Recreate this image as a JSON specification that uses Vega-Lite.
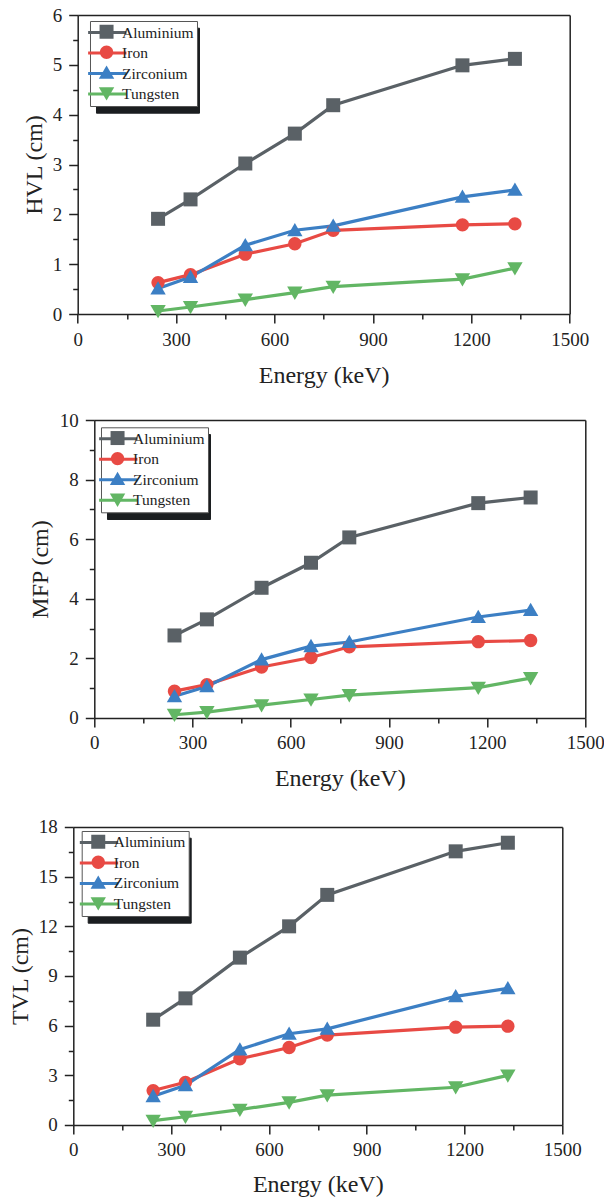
{
  "$schema": "https://vega.github.io/schema/vega-lite/v6.json",
  "padding": {"left": 8.3, "top": 6, "right": 0, "bottom": 0},
  "background": "white",
  "spacing": 23,
  "bounds": "full",
  "columns": 1,
  "datasets": {
    "hvl": [
      {"energy": 245, "material": "Aluminium", "value": 1.91},
      {"energy": 344, "material": "Aluminium", "value": 2.30},
      {"energy": 511, "material": "Aluminium", "value": 3.02},
      {"energy": 662, "material": "Aluminium", "value": 3.62},
      {"energy": 779, "material": "Aluminium", "value": 4.19},
      {"energy": 1173, "material": "Aluminium", "value": 4.99},
      {"energy": 1333, "material": "Aluminium", "value": 5.12},
      {"energy": 245, "material": "Iron", "value": 0.63},
      {"energy": 344, "material": "Iron", "value": 0.79},
      {"energy": 511, "material": "Iron", "value": 1.20},
      {"energy": 662, "material": "Iron", "value": 1.41},
      {"energy": 779, "material": "Iron", "value": 1.68},
      {"energy": 1173, "material": "Iron", "value": 1.79},
      {"energy": 1333, "material": "Iron", "value": 1.81},
      {"energy": 245, "material": "Zirconium", "value": 0.51},
      {"energy": 344, "material": "Zirconium", "value": 0.74},
      {"energy": 511, "material": "Zirconium", "value": 1.38},
      {"energy": 662, "material": "Zirconium", "value": 1.68},
      {"energy": 779, "material": "Zirconium", "value": 1.77},
      {"energy": 1173, "material": "Zirconium", "value": 2.35},
      {"energy": 1333, "material": "Zirconium", "value": 2.49},
      {"energy": 245, "material": "Tungsten", "value": 0.06},
      {"energy": 344, "material": "Tungsten", "value": 0.14},
      {"energy": 511, "material": "Tungsten", "value": 0.29},
      {"energy": 662, "material": "Tungsten", "value": 0.43},
      {"energy": 779, "material": "Tungsten", "value": 0.55},
      {"energy": 1173, "material": "Tungsten", "value": 0.70},
      {"energy": 1333, "material": "Tungsten", "value": 0.92}
    ],
    "mfp": [
      {"energy": 245, "material": "Aluminium", "value": 2.77},
      {"energy": 344, "material": "Aluminium", "value": 3.31},
      {"energy": 511, "material": "Aluminium", "value": 4.37},
      {"energy": 662, "material": "Aluminium", "value": 5.21},
      {"energy": 779, "material": "Aluminium", "value": 6.06},
      {"energy": 1173, "material": "Aluminium", "value": 7.21},
      {"energy": 1333, "material": "Aluminium", "value": 7.40},
      {"energy": 245, "material": "Iron", "value": 0.90},
      {"energy": 344, "material": "Iron", "value": 1.12},
      {"energy": 511, "material": "Iron", "value": 1.71},
      {"energy": 662, "material": "Iron", "value": 2.03},
      {"energy": 779, "material": "Iron", "value": 2.39},
      {"energy": 1173, "material": "Iron", "value": 2.56},
      {"energy": 1333, "material": "Iron", "value": 2.60},
      {"energy": 245, "material": "Zirconium", "value": 0.73},
      {"energy": 344, "material": "Zirconium", "value": 1.06},
      {"energy": 511, "material": "Zirconium", "value": 1.96},
      {"energy": 662, "material": "Zirconium", "value": 2.41},
      {"energy": 779, "material": "Zirconium", "value": 2.55},
      {"energy": 1173, "material": "Zirconium", "value": 3.39},
      {"energy": 1333, "material": "Zirconium", "value": 3.62},
      {"energy": 245, "material": "Tungsten", "value": 0.11},
      {"energy": 344, "material": "Tungsten", "value": 0.20},
      {"energy": 511, "material": "Tungsten", "value": 0.43},
      {"energy": 662, "material": "Tungsten", "value": 0.62},
      {"energy": 779, "material": "Tungsten", "value": 0.77},
      {"energy": 1173, "material": "Tungsten", "value": 1.02},
      {"energy": 1333, "material": "Tungsten", "value": 1.34}
    ],
    "tvl": [
      {"energy": 245, "material": "Aluminium", "value": 6.36},
      {"energy": 344, "material": "Aluminium", "value": 7.65},
      {"energy": 511, "material": "Aluminium", "value": 10.11},
      {"energy": 662, "material": "Aluminium", "value": 12.0},
      {"energy": 779, "material": "Aluminium", "value": 13.9},
      {"energy": 1173, "material": "Aluminium", "value": 16.53},
      {"energy": 1333, "material": "Aluminium", "value": 17.05},
      {"energy": 245, "material": "Iron", "value": 2.08},
      {"energy": 344, "material": "Iron", "value": 2.58},
      {"energy": 511, "material": "Iron", "value": 4.0},
      {"energy": 662, "material": "Iron", "value": 4.68},
      {"energy": 779, "material": "Iron", "value": 5.43},
      {"energy": 1173, "material": "Iron", "value": 5.91},
      {"energy": 1333, "material": "Iron", "value": 5.97},
      {"energy": 245, "material": "Zirconium", "value": 1.74},
      {"energy": 344, "material": "Zirconium", "value": 2.40},
      {"energy": 511, "material": "Zirconium", "value": 4.56},
      {"energy": 662, "material": "Zirconium", "value": 5.51},
      {"energy": 779, "material": "Zirconium", "value": 5.81},
      {"energy": 1173, "material": "Zirconium", "value": 7.77},
      {"energy": 1333, "material": "Zirconium", "value": 8.25},
      {"energy": 245, "material": "Tungsten", "value": 0.26},
      {"energy": 344, "material": "Tungsten", "value": 0.50},
      {"energy": 511, "material": "Tungsten", "value": 0.93},
      {"energy": 662, "material": "Tungsten", "value": 1.37},
      {"energy": 779, "material": "Tungsten", "value": 1.80},
      {"energy": 1173, "material": "Tungsten", "value": 2.28},
      {"energy": 1333, "material": "Tungsten", "value": 3.0}
    ]
  },
  "config": {
    "view": {"stroke": null},
    "style": {"guide-label": {"font": "Liberation Serif"}},
    "axis": {
      "domainColor": "#222", "domainWidth": 1.5,
      "tickColor": "#222", "tickWidth": 1.5,
      "labelFont": "Liberation Serif", "labelFontSize": 19, "labelColor": "#222",
      "titleFont": "Liberation Serif", "titleFontSize": 24, "titleFontWeight": "normal", "titleColor": "#222",
      "grid": false, "labelFlush": false, "labelOverlap": false, "minExtent": 0
    },
    "legend": {
      "labelFont": "Liberation Serif", "labelFontSize": 15.5, "labelColor": "#222",
      "orient": "none", "direction": "vertical", "title": null,
      "padding": 3, "rowPadding": 3.5, "symbolSize": 196, "symbolOffset": 5.8, "labelOffset": 6.3, "symbolOpacity": 1
    }
  },
  "resolve": {
    "scale": {"color": "independent", "shape": "independent", "opacity": "independent", "stroke": "independent"},
    "legend": {"color": "independent", "shape": "independent", "opacity": "independent", "stroke": "independent"}
  },
  "concat": [
    {
      "width": 496.4, "height": 299,
      "data": {"name": "hvl"},
      "resolve": {"axis": {"x": "independent", "y": "independent"}},
      "layer": [
        {
          "mark": {"type": "line", "strokeWidth": 3.2},
          "encoding": {
            "x": {"field": "energy", "type": "quantitative", "scale": {"domain": [0, 1500], "range": [4.4, 496.4], "nice": false, "zero": false},
              "axis": {"orient": "bottom", "values": [0, 300, 600, 900, 1200, 1500], "format": "d", "tickSize": 9, "labelPadding": 7, "title": "Energy (keV)", "titleY": 68.5, "titleBaseline": "alphabetic"}},
            "y": {"field": "value", "type": "quantitative", "scale": {"domain": [0, 6], "nice": false},
              "axis": {"orient": "left", "offset": -4.4, "values": [0, 1, 2, 3, 4, 5, 6], "format": "d", "tickSize": 9, "labelPadding": 7, "title": "HVL (cm)", "titlePadding": 6}},
            "stroke": {"field": "material", "type": "nominal", "sort": ["Aluminium", "Iron", "Zirconium", "Tungsten"], "scale": {"range": ["#5a6166", "#e84a44", "#3c7fc4", "#62b664"]},
              "legend": {"legendX": 16.7, "legendY": 6, "padding": 3, "rowPadding": 3.5, "symbolSize": 196, "symbolOffset": 5.8, "labelOffset": 6.3, "labelFont": "Liberation Serif", "labelFontSize": 15.5, "labelColor": "#222", "symbolType": "M-2.74,0H2.74", "symbolStrokeWidth": 3, "fillColor": "white", "strokeColor": "#555", "zindex": 2}}
          }
        },
        {
          "mark": {"type": "point", "filled": true, "size": 196, "strokeWidth": 0, "opacity": 1},
          "encoding": {
            "x": {"field": "energy", "type": "quantitative",
              "axis": {"orient": "bottom", "values": [150, 450, 750, 1050, 1350], "tickSize": 5, "labels": false, "domain": false, "title": null}},
            "y": {"field": "value", "type": "quantitative",
              "axis": {"orient": "left", "offset": -4.4, "values": [0.5, 1.5, 2.5, 3.5, 4.5, 5.5], "tickSize": 5, "labels": false, "domain": false, "title": null}},
            "color": {"field": "material", "type": "nominal", "scale": {"domain": ["Aluminium", "Iron", "Zirconium", "Tungsten"], "range": ["#5a6166", "#e84a44", "#3c7fc4", "#62b664"]},
              "legend": {"legendX": 16.7, "legendY": 6, "padding": 3, "rowPadding": 3.5, "symbolSize": 196, "symbolOffset": 5.8, "labelFont": "Liberation Serif", "labelFontSize": 15.5, "symbolStrokeWidth": 0, "labelExpr": "' '", "zindex": 3}},
            "shape": {"field": "material", "type": "nominal", "scale": {"domain": ["Aluminium", "Iron", "Zirconium", "Tungsten"], "range": ["M-1,-1H1V1H-1Z", "M-0.95,0A0.95,0.95,0,0,1,0.95,0A0.95,0.95,0,0,1,-0.95,0Z", "M0,-1.05L1.1,0.85H-1.1Z", "M0,1.05L-1.1,-0.85H1.1Z"]}},
            "opacity": {"field": "material", "type": "nominal", "scale": {"domain": ["Tungsten", "Zirconium", "Iron", "Aluminium"], "range": [1, 1, 1, 1]},
              "legend": {"legendX": 22.7, "legendY": 12.7, "padding": 3, "rowPadding": 3.5, "symbolSize": 196, "symbolOffset": 5.8, "labelFont": "Liberation Serif", "labelFontSize": 15.5, "symbolType": "M-2.74,0H2.74", "symbolStrokeWidth": 3, "symbolStrokeColor": "#1b1e20", "symbolFillColor": "#1b1e20", "fillColor": "#1b1e20", "strokeColor": "#1b1e20", "labelExpr": "' '", "labelOffset": 73.9, "zindex": 1}}
          }
        },
        {
          "mark": {"type": "point", "opacity": 0, "size": 1},
          "encoding": {
            "x": {"field": "energy", "type": "quantitative", "axis": {"orient": "top", "labels": false, "ticks": false, "title": null}},
            "y": {"field": "value", "type": "quantitative", "axis": {"orient": "right", "labels": false, "ticks": false, "title": null}}
          }
        }
      ]
    },
    {
      "width": 512, "height": 298,
      "data": {"name": "mfp"},
      "resolve": {"axis": {"x": "independent", "y": "independent"}},
      "layer": [
        {
          "mark": {"type": "line", "strokeWidth": 3.2},
          "encoding": {
            "x": {"field": "energy", "type": "quantitative", "scale": {"domain": [0, 1500], "range": [21, 512], "nice": false, "zero": false},
              "axis": {"orient": "bottom", "values": [0, 300, 600, 900, 1200, 1500], "format": "d", "tickSize": 9, "labelPadding": 7, "title": ["Energy (keV)", ""], "titleLineHeight": 4.2, "titleY": 67.3, "titleBaseline": "alphabetic"}},
            "y": {"field": "value", "type": "quantitative", "scale": {"domain": [0, 10], "nice": false},
              "axis": {"orient": "left", "offset": -21, "values": [0, 2, 4, 6, 8, 10], "format": "d", "tickSize": 9, "labelPadding": 7, "title": "MFP (cm)", "titlePadding": 7}},
            "stroke": {"field": "material", "type": "nominal", "sort": ["Aluminium", "Iron", "Zirconium", "Tungsten"], "scale": {"range": ["#5a6166", "#e84a44", "#3c7fc4", "#62b664"]},
              "legend": {"legendX": 27.7, "legendY": 7.3, "padding": 3, "rowPadding": 3.5, "symbolSize": 196, "symbolOffset": 5.8, "labelOffset": 6.3, "labelFont": "Liberation Serif", "labelFontSize": 15.5, "labelColor": "#222", "symbolType": "M-2.74,0H2.74", "symbolStrokeWidth": 3, "fillColor": "white", "strokeColor": "#555", "zindex": 2}}
          }
        },
        {
          "mark": {"type": "point", "filled": true, "size": 196, "strokeWidth": 0, "opacity": 1},
          "encoding": {
            "x": {"field": "energy", "type": "quantitative",
              "axis": {"orient": "bottom", "values": [150, 450, 750, 1050, 1350], "tickSize": 5, "labels": false, "domain": false, "title": null}},
            "y": {"field": "value", "type": "quantitative",
              "axis": {"orient": "left", "offset": -21, "values": [1, 3, 5, 7, 9], "tickSize": 5, "labels": false, "domain": false, "title": null}},
            "color": {"field": "material", "type": "nominal", "scale": {"domain": ["Aluminium", "Iron", "Zirconium", "Tungsten"], "range": ["#5a6166", "#e84a44", "#3c7fc4", "#62b664"]},
              "legend": {"legendX": 27.7, "legendY": 7.3, "padding": 3, "rowPadding": 3.5, "symbolSize": 196, "symbolOffset": 5.8, "labelFont": "Liberation Serif", "labelFontSize": 15.5, "symbolStrokeWidth": 0, "labelExpr": "' '", "zindex": 3}},
            "shape": {"field": "material", "type": "nominal", "scale": {"domain": ["Aluminium", "Iron", "Zirconium", "Tungsten"], "range": ["M-1,-1H1V1H-1Z", "M-0.95,0A0.95,0.95,0,0,1,0.95,0A0.95,0.95,0,0,1,-0.95,0Z", "M0,-1.05L1.1,0.85H-1.1Z", "M0,1.05L-1.1,-0.85H1.1Z"]}},
            "opacity": {"field": "material", "type": "nominal", "scale": {"domain": ["Tungsten", "Zirconium", "Iron", "Aluminium"], "range": [1, 1, 1, 1]},
              "legend": {"legendX": 33.7, "legendY": 14, "padding": 3, "rowPadding": 3.5, "symbolSize": 196, "symbolOffset": 5.8, "labelFont": "Liberation Serif", "labelFontSize": 15.5, "symbolType": "M-2.74,0H2.74", "symbolStrokeWidth": 3, "symbolStrokeColor": "#1b1e20", "symbolFillColor": "#1b1e20", "fillColor": "#1b1e20", "strokeColor": "#1b1e20", "labelExpr": "' '", "labelOffset": 73.9, "zindex": 1}}
          }
        },
        {
          "mark": {"type": "point", "opacity": 0, "size": 1},
          "encoding": {
            "x": {"field": "energy", "type": "quantitative", "axis": {"orient": "top", "labels": false, "ticks": false, "title": null}},
            "y": {"field": "value", "type": "quantitative", "axis": {"orient": "right", "labels": false, "ticks": false, "title": null}}
          }
        }
      ]
    },
    {
      "width": 489, "height": 298,
      "data": {"name": "tvl"},
      "resolve": {"axis": {"x": "independent", "y": "independent"}},
      "layer": [
        {
          "mark": {"type": "line", "strokeWidth": 3.2},
          "encoding": {
            "x": {"field": "energy", "type": "quantitative", "scale": {"domain": [0, 1500], "nice": false, "zero": false},
              "axis": {"orient": "bottom", "values": [0, 300, 600, 900, 1200, 1500], "format": "d", "tickSize": 9, "labelPadding": 7, "title": "Energy (keV)", "titleY": 66.3, "titleBaseline": "alphabetic"}},
            "y": {"field": "value", "type": "quantitative", "scale": {"domain": [0, 18], "nice": false},
              "axis": {"orient": "left", "values": [0, 3, 6, 9, 12, 15, 18], "format": "d", "tickSize": 9, "labelPadding": 7, "title": "TVL (cm)", "titlePadding": 6}},
            "stroke": {"field": "material", "type": "nominal", "sort": ["Aluminium", "Iron", "Zirconium", "Tungsten"], "scale": {"range": ["#5a6166", "#e84a44", "#3c7fc4", "#62b664"]},
              "legend": {"legendX": 8.4, "legendY": 4, "padding": 3, "rowPadding": 3.5, "symbolSize": 196, "symbolOffset": 5.8, "labelOffset": 6.3, "labelFont": "Liberation Serif", "labelFontSize": 15.5, "labelColor": "#222", "symbolType": "M-2.74,0H2.74", "symbolStrokeWidth": 3, "fillColor": "white", "strokeColor": "#555", "zindex": 2}}
          }
        },
        {
          "mark": {"type": "point", "filled": true, "size": 196, "strokeWidth": 0, "opacity": 1},
          "encoding": {
            "x": {"field": "energy", "type": "quantitative",
              "axis": {"orient": "bottom", "values": [150, 450, 750, 1050, 1350], "tickSize": 5, "labels": false, "domain": false, "title": null}},
            "y": {"field": "value", "type": "quantitative",
              "axis": {"orient": "left", "values": [1.5, 4.5, 7.5, 10.5, 13.5, 16.5], "tickSize": 5, "labels": false, "domain": false, "title": null}},
            "color": {"field": "material", "type": "nominal", "scale": {"domain": ["Aluminium", "Iron", "Zirconium", "Tungsten"], "range": ["#5a6166", "#e84a44", "#3c7fc4", "#62b664"]},
              "legend": {"legendX": 8.4, "legendY": 4, "padding": 3, "rowPadding": 3.5, "symbolSize": 196, "symbolOffset": 5.8, "labelFont": "Liberation Serif", "labelFontSize": 15.5, "symbolStrokeWidth": 0, "labelExpr": "' '", "zindex": 3}},
            "shape": {"field": "material", "type": "nominal", "scale": {"domain": ["Aluminium", "Iron", "Zirconium", "Tungsten"], "range": ["M-1,-1H1V1H-1Z", "M-0.95,0A0.95,0.95,0,0,1,0.95,0A0.95,0.95,0,0,1,-0.95,0Z", "M0,-1.05L1.1,0.85H-1.1Z", "M0,1.05L-1.1,-0.85H1.1Z"]}},
            "opacity": {"field": "material", "type": "nominal", "scale": {"domain": ["Tungsten", "Zirconium", "Iron", "Aluminium"], "range": [1, 1, 1, 1]},
              "legend": {"legendX": 14.4, "legendY": 10.7, "padding": 3, "rowPadding": 3.5, "symbolSize": 196, "symbolOffset": 5.8, "labelFont": "Liberation Serif", "labelFontSize": 15.5, "symbolType": "M-2.74,0H2.74", "symbolStrokeWidth": 3, "symbolStrokeColor": "#1b1e20", "symbolFillColor": "#1b1e20", "fillColor": "#1b1e20", "strokeColor": "#1b1e20", "labelExpr": "' '", "labelOffset": 73.9, "zindex": 1}}
          }
        },
        {
          "mark": {"type": "point", "opacity": 0, "size": 1},
          "encoding": {
            "x": {"field": "energy", "type": "quantitative", "axis": {"orient": "top", "labels": false, "ticks": false, "title": null}},
            "y": {"field": "value", "type": "quantitative", "axis": {"orient": "right", "labels": false, "ticks": false, "title": null}}
          }
        }
      ]
    }
  ]
}
